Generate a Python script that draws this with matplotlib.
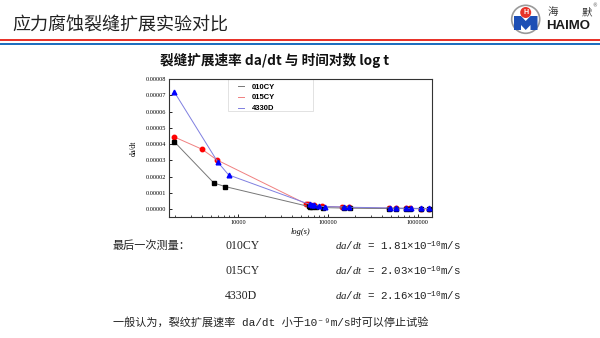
import matplotlib
matplotlib.use("Agg")
import matplotlib.pyplot as plt
from matplotlib.patches import Circle, Polygon, Rectangle
from matplotlib.ticker import FixedLocator, FormatStrFormatter, LogLocator, NullFormatter

plt.rcParams['font.family'] = ['Liberation Serif', 'DejaVu Serif', 'Noto Sans CJK SC']
plt.rcParams['mathtext.fontset'] = 'custom'
plt.rcParams['mathtext.rm'] = 'Liberation Mono'
plt.rcParams['mathtext.it'] = 'Liberation Serif:italic'

CJK = ['Noto Sans CJK SC', 'DejaVu Sans']
MONO = ['Liberation Mono', 'DejaVu Sans Mono', 'Noto Sans CJK SC']

# crack growth rate da/dt vs time (s)
series_names = ['010CY', '015CY', '4330D']
t_010 = [1950, 5400, 7230, 61000, 64000, 67000, 74000, 88000, 150000, 178000,
         480000, 575000, 735000, 828000, 1080000, 1320000]
v_010 = [4.15e-5, 1.60e-5, 1.38e-5, 0.16e-5, 0.12e-5, 0.11e-5, 0.10e-5, 0.09e-5,
         0.06e-5, 0.05e-5, 0.03e-5, 0.03e-5, 0.025e-5, 0.02e-5, 0.02e-5, 0.018e-5]
t_015 = [1950, 3980, 5840, 57000, 60000, 63000, 70000, 85000, 145000, 170000,
         480000, 575000, 735000, 828000, 1080000, 1320000]
v_015 = [4.44e-5, 3.68e-5, 3.02e-5, 0.32e-5, 0.30e-5, 0.27e-5, 0.22e-5, 0.18e-5,
         0.12e-5, 0.10e-5, 0.05e-5, 0.045e-5, 0.04e-5, 0.035e-5, 0.03e-5, 0.025e-5]
t_433 = [1950, 5980, 7870, 63000, 67000, 71000, 80000, 92000, 152000, 174000,
         490000, 580000, 740000, 835000, 1100000, 1330000]
v_433 = [7.22e-5, 2.88e-5, 2.10e-5, 0.28e-5, 0.25e-5, 0.22e-5, 0.18e-5, 0.15e-5,
         0.13e-5, 0.11e-5, 0.07e-5, 0.06e-5, 0.05e-5, 0.045e-5, 0.04e-5, 0.035e-5]

y_ticks = [0, 1e-5, 2e-5, 3e-5, 4e-5, 5e-5, 6e-5, 7e-5, 8e-5]
x_ticks = [10000, 100000, 1000000]

# last measured rates
last_names = ['010CY', '015CY', '4330D']
last_rates = ['1.81', '2.03', '2.16']

fig = plt.figure(figsize=(6, 3.38), dpi=100)

# slide background in pixel units
bg = fig.add_axes([0, 0, 1, 1])
bg.set_xlim(0, 600)
bg.set_ylim(338, 0)
bg.axis('off')

bg.text(12, 25, '应力腐蚀裂缝扩展实验对比', fontsize=13, family=CJK,
        color='#222222', va='center', ha='left')
bg.add_patch(Rectangle((0, 39), 600, 2, color='#e8332a', lw=0))
bg.add_patch(Rectangle((0, 42.5), 600, 2, color='#1f6fbf', lw=0))

# logo
bg.add_patch(Circle((525.7, 19.3), 14, facecolor='white', edgecolor='#9a9a9a', lw=1.2))
bg.add_patch(Polygon([(514, 16), (521, 16), (525.7, 21), (530.5, 16), (537.5, 16),
                      (537.5, 30), (530.5, 30), (530.5, 25), (525.7, 30),
                      (521, 25), (521, 30), (514, 30)], closed=True,
                     facecolor='#1d4fb5', lw=0))
bg.add_patch(Circle((525.7, 12.5), 5.5, facecolor='#e8332a', lw=0))
bg.text(525.7, 12.7, 'H', fontsize=5, color='white', weight='bold',
        family='Liberation Sans', ha='center', va='center')
bg.text(548, 12, '海', fontsize=7.5, family=CJK, color='#333333', va='center')
bg.text(582, 12, '默', fontsize=7.5, family=CJK, color='#333333', va='center')
bg.text(592, 5.5, '®', fontsize=3.5, family='DejaVu Sans', color='#555555', va='center')
bg.text(546, 26, 'HAIMO', fontsize=9.5, family='Liberation Sans', weight='bold',
        color='#1a1a1a', va='center')

bg.text(275, 60, '裂缝扩展速率 da/dt 与 时间对数 log t', fontsize=9.8, family=CJK,
        weight='bold', color='#111111', ha='center', va='center')

# chart
ax = fig.add_axes([169 / 600, 1 - 217 / 338, 263 / 600, 138 / 338])
ax.plot(t_010, v_010, color='#777777', lw=0.7, marker='s', ms=3,
        mfc='black', mec='black', label=series_names[0], zorder=3)
ax.plot(t_015, v_015, color='#f08080', lw=0.7, marker='o', ms=3.2,
        mfc='red', mec='red', label=series_names[1], zorder=2)
ax.plot(t_433, v_433, color='#7f7fe0', lw=0.7, marker='^', ms=3.4,
        mfc='blue', mec='blue', label=series_names[2], zorder=4)

ax.set_xscale('log')
ax.set_xlim(1710, 1.44e6)
ax.set_ylim(-0.49e-5, 8e-5)
ax.yaxis.set_major_locator(FixedLocator(y_ticks))
ax.yaxis.set_major_formatter(FormatStrFormatter('%.5f'))
ax.xaxis.set_major_locator(FixedLocator(x_ticks))
ax.set_xticklabels([str(v) for v in x_ticks])
ax.xaxis.set_minor_locator(LogLocator(base=10, subs=range(2, 10)))
ax.xaxis.set_minor_formatter(NullFormatter())
ax.tick_params(axis='both', which='major', direction='in', length=2.5, width=0.6,
               labelsize=4.5, pad=2)
ax.tick_params(axis='x', which='minor', direction='in', length=1.5, width=0.5)
for s in ax.spines.values():
    s.set_linewidth(0.8)
    s.set_color('#333333')
ax.set_ylabel('da/dt', fontsize=5.5, labelpad=6)
ax.set_xlabel('log(s)', fontsize=6, style='italic', labelpad=2)

leg = ax.legend(loc='upper left', bbox_to_anchor=(0.255, 0.985), handlelength=0.8,
                frameon=False, prop={'family': 'Liberation Sans',
                                     'weight': 'bold', 'size': 5.5},
                borderpad=0.3, labelspacing=0.45, handletextpad=1.0,
                borderaxespad=0.0)
for h in leg.legend_handles:
    h.set_marker('')
# legend box
ax.add_patch(Rectangle((228, 79), 85, 32, transform=bg.transData, fill=False,
                       edgecolor='#dddddd', lw=0.6, clip_on=False))

# results text
bg.text(113, 246, '最后一次测量：', fontsize=8, family=CJK, color='#222222', va='center')
for i, (name, rate) in enumerate(zip(last_names, last_rates)):
    y = 246 + i * 25
    bg.text(225, y, name, fontsize=8.5, color='#222222', va='center')
    bg.text(335, y, r'$da/dt$ = ' + rate + r'×10$^{-10}$m/s', fontsize=7.8,
            family=MONO, color='#222222', va='center')

bg.text(113, 322, '一般认为，裂纹扩展速率 da/dt 小于10⁻⁹m/s时可以停止试验',
        fontsize=8, family=MONO, color='#222222', va='center')

fig.savefig('out.png', dpi=100)
